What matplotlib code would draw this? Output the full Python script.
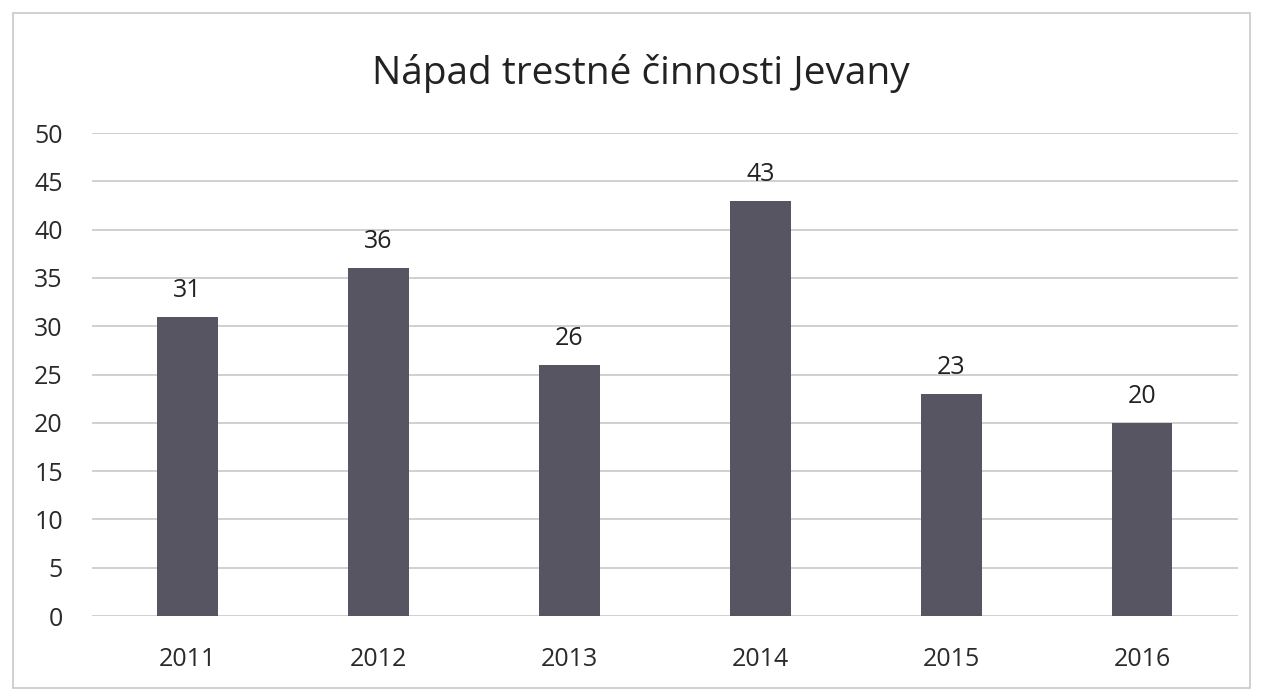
import matplotlib.pyplot as plt
from matplotlib.patches import Rectangle

years = ["2011", "2012", "2013", "2014", "2015", "2016"]
crimes = [31, 36, 26, 43, 23, 20]
yticks = [0, 5, 10, 15, 20, 25, 30, 35, 40, 45, 50]

plt.rcParams['font.family'] = ['Open Sans', 'DejaVu Sans']

fig = plt.figure(figsize=(12.62, 6.91), dpi=100)
ax = fig.add_axes([0.0729, 0.1085, 0.908, 0.699])

x = range(len(years))
bars = ax.bar(x, crimes, width=0.315, color="#575562", zorder=3)
for b, v in zip(bars, crimes):
    ax.annotate(str(v), (b.get_x() + b.get_width() / 2, v),
                xytext=(0, 10), textcoords="offset points",
                ha="center", va="bottom", fontsize=18, color="#222222")

ax.set_xlim(-0.5, len(years) - 0.5)
ax.set_ylim(0, 50)
ax.set_yticks(yticks)
ax.set_xticks(list(x))
ax.set_xticklabels(years)
ax.grid(axis="y", color="#c8c8c8", linewidth=1.2, zorder=0)
for s in ax.spines.values():
    s.set_visible(False)
ax.tick_params(length=0, labelsize=18, colors="#2a2a2a")
ax.tick_params(axis="y", pad=21)
ax.tick_params(axis="x", pad=22)

fig.text(0.508, 0.893, "Nápad trestné činnosti Jevany",
         ha="center", va="center", fontsize=28, color="#222222")

fig.patches.append(Rectangle((0.0103, 0.005), 0.980, 0.976, transform=fig.transFigure,
                             fill=False, edgecolor="#c8c8c8", linewidth=1.2))

fig.savefig("out.png", dpi=100)
